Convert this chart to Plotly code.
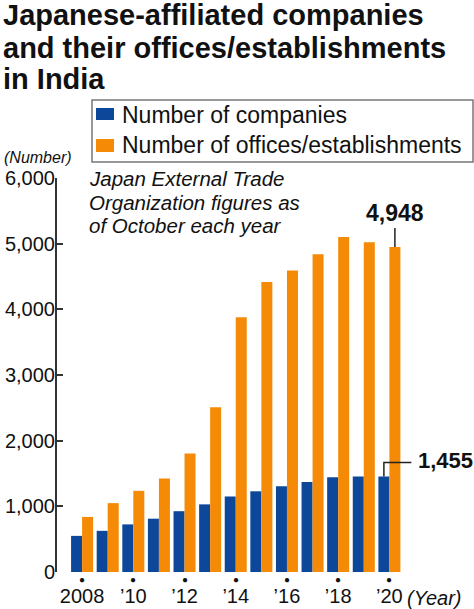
import plotly.graph_objects as go

# ---- data ----
years = [2008, 2009, 2010, 2011, 2012, 2013, 2014, 2015, 2016, 2017, 2018, 2019, 2020]
companies = [550, 627, 725, 812, 926, 1030, 1150, 1229, 1305, 1369, 1441, 1454, 1455]
offices = [839, 1049, 1236, 1422, 1804, 2510, 3880, 4417, 4590, 4838, 5102, 5022, 4948]
tick_years = [2008, 2010, 2012, 2014, 2016, 2018, 2020]
tick_text = ["2008", "’10", "’12", "’14", "’16", "’18", "’20"]
y_ticks = [0, 1000, 2000, 3000, 4000, 5000, 6000]

BLUE = "#0d4799"
ORANGE = "#f58a07"
FONT = "Liberation Sans, Arial, Helvetica, sans-serif"

# layout geometry (pixels)
WID, HEI = 474, 609
L, R, T, B = 57, 59, 178, 37
W = WID - L - R
H = HEI - T - B

def fx(p):
    return (p - L) / W

def fy(p):
    return (T + H - p) / H

BARGAP = 0.14
half = (1 - BARGAP) / 4  # half of one bar width in x units

fig = go.Figure()
fig.add_trace(go.Bar(x=years, y=companies, name="Number of companies",
                     marker=dict(color=BLUE, line=dict(width=0)), offsetgroup="a"))
fig.add_trace(go.Bar(x=years, y=offices, name="Number of offices/establishments",
                     marker=dict(color=ORANGE, line=dict(width=0)), offsetgroup="b"))

fig.update_layout(
    width=WID, height=HEI,
    margin=dict(l=L, r=R, t=T, b=B, pad=0, autoexpand=False),
    paper_bgcolor="white", plot_bgcolor="white",
    barmode="group", bargap=BARGAP, bargroupgap=0,
    showlegend=False,
    font=dict(family=FONT, color="#111"),
    xaxis=dict(range=[2007.02, 2021.0], tickvals=tick_years, ticktext=tick_text,
               showline=False, showgrid=False, zeroline=False, ticks="",
               automargin=False,
               tickfont=dict(size=20, color="#111"), ticklabelstandoff=10),
    yaxis=dict(range=[0, 6000], tickvals=y_ticks, tickformat=",",
               showline=True, linecolor="#333", linewidth=2,
               ticks="inside", ticklen=6, tickwidth=1.5, tickcolor="#333",
               showgrid=False, zeroline=False, automargin=False,
               tickfont=dict(size=20, color="#111"), ticklabelstandoff=-4),
)

ann = []
# title
for txt, cy in [("Japanese-affiliated companies", 15),
                ("and their offices/establishments", 48),
                ("in India", 79)]:
    ann.append(dict(text=txt, xref="paper", yref="paper", x=fx(1), y=fy(cy),
                    xanchor="left", yanchor="middle", showarrow=False,
                    font=dict(size=29, color="#111", family=FONT, weight="bold")))
# legend texts
for txt, cy in [("Number of companies", 115), ("Number of offices/establishments", 145)]:
    ann.append(dict(text=txt, xref="paper", yref="paper", x=fx(120), y=fy(cy),
                    xanchor="left", yanchor="middle", showarrow=False,
                    font=dict(size=23, color="#111", family=FONT)))
# unit label
ann.append(dict(text="<i>(Number)</i>", xref="paper", yref="paper", x=fx(2), y=fy(157),
                xanchor="left", yanchor="middle", showarrow=False,
                font=dict(size=16, color="#111", family=FONT)))
# source note
for txt, cy in [("Japan External Trade", 179), ("Organization figures as", 202),
                ("of October each year", 225)]:
    ann.append(dict(text="<i>" + txt + "</i>", xref="paper", yref="paper", x=fx(87), y=fy(cy),
                    xanchor="left", yanchor="middle", showarrow=False,
                    font=dict(size=20.5, color="#111", family=FONT)))
# year dots
for yr in tick_years:
    ann.append(dict(text="●", xref="x", yref="y", x=yr, y=0, yshift=-7,
                    xanchor="center", yanchor="middle", showarrow=False,
                    font=dict(size=10, color="#111", family=FONT)))
# (Year)
ann.append(dict(text="<i>(Year)</i>", xref="x", yref="y", x=years[-1], y=0,
                xshift=16, yshift=-26, xanchor="left", yanchor="middle", showarrow=False,
                font=dict(size=20, color="#111", family=FONT)))
# value labels
ann.append(dict(text="<b>{:,}</b>".format(offices[-1]), xref="x", yref="y",
                x=years[-1] + half, y=offices[-1], yshift=34,
                xanchor="center", yanchor="middle", showarrow=False,
                font=dict(size=23, color="#111", family=FONT)))
ann.append(dict(text="<b>{:,}</b>".format(companies[-1]), xref="x", yref="y",
                x=years[-1] - half, y=companies[-1], xshift=32, yshift=16,
                xanchor="left", yanchor="middle", showarrow=False,
                font=dict(size=22, color="#111", family=FONT)))
fig.update_layout(annotations=ann)

units_per_px = 6000 / H
x_per_px = (2021.0 - 2007.02) / W
shapes = [
    # legend box
    dict(type="rect", xref="paper", yref="paper", x0=fx(92), x1=fx(473), y0=fy(162), y1=fy(100),
         line=dict(color="#777", width=1.5), fillcolor="rgba(0,0,0,0)"),
    dict(type="rect", xref="paper", yref="paper", x0=fx(96), x1=fx(114), y0=fy(120), y1=fy(108),
         line=dict(width=0), fillcolor=BLUE),
    dict(type="rect", xref="paper", yref="paper", x0=fx(96), x1=fx(114), y0=fy(152), y1=fy(139),
         line=dict(width=0), fillcolor=ORANGE),
    # leader for offices label
    dict(type="line", xref="x", yref="y", x0=years[-1] + half, x1=years[-1] + half,
         y0=offices[-1], y1=offices[-1] + 19 * units_per_px, line=dict(color="#222", width=1.5)),
    # elbow leader for companies label
    dict(type="path", xref="x", yref="y",
         path="M {x0},{y0} L {x0},{y1} L {x2},{y1}".format(
             x0=years[-1] - half, y0=companies[-1], y1=companies[-1] + 14 * units_per_px,
             x2=years[-1] - half + 27.5 * x_per_px),
         line=dict(color="#222", width=1.5)),
]
fig.update_layout(shapes=shapes)

fig.write_html("out.html", config={"displayModeBar": False},
               post_script="document.body.style.margin='0';document.body.style.padding='0';")
